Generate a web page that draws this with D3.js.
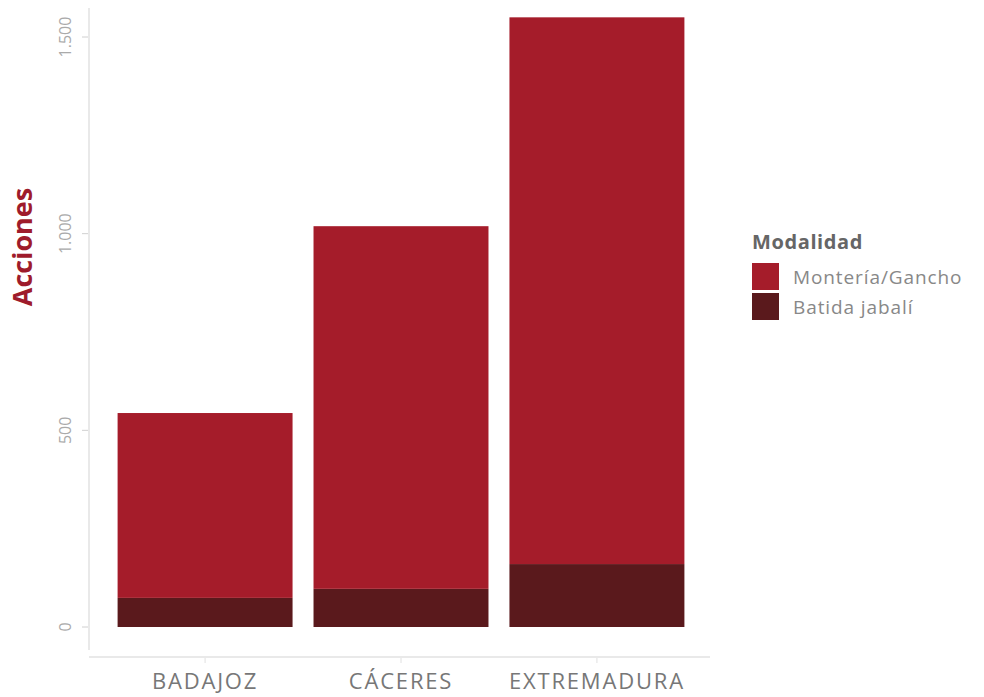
<!DOCTYPE html>
<html>
<head>
<meta charset="utf-8">
<script src="https://cdn.jsdelivr.net/npm/d3@7"></script>
<style>
  body { margin: 0; background: #fff; }
  svg { display: block; font-family: "Open Sans", sans-serif; }
</style>
</head>
<body>
<svg width="984" height="697"></svg>
<script>
var regions = ["BADAJOZ", "CÁCERES", "EXTREMADURA"];
var monteria = [470, 922, 1390];
var batida = [74, 97, 160];
var modalidades = ["Montería/Gancho", "Batida jabalí"];
var colors = ["#a51c2a", "#5a191c"];
var yTicks = [0, 500, 1000, 1500];

var svg = d3.select("svg");

var rows = regions.map(function(r, i) {
    return {region: r, batida: batida[i], monteria: monteria[i]};
});

// batida sits at the bottom, monteria stacked on top
var stack = d3.stack().keys(["batida", "monteria"]);
var series = stack(rows);

var x = d3.scaleBand()
    .domain(regions)
    .range([98, 704])
    .paddingInner(0.107)
    .paddingOuter(0.1);

var y = d3.scaleLinear()
    .domain([0, 1500])
    .range([627, 37]);

var es = d3.formatLocale({decimal: ",", thousands: ".", grouping: [3], currency: ["", " €"]});
var fmt = es.format(",d");

// axis lines
svg.append("line")
    .attr("x1", 89).attr("x2", 89)
    .attr("y1", 8).attr("y2", 650)
    .attr("stroke", "#e2e2e2").attr("stroke-width", 1.5);
svg.append("line")
    .attr("x1", 89).attr("x2", 710)
    .attr("y1", 657).attr("y2", 657)
    .attr("stroke", "#e2e2e2").attr("stroke-width", 1.5);

// y ticks
var yAxis = svg.append("g");
yAxis.selectAll("line")
    .data(yTicks)
    .enter().append("line")
    .attr("x1", 82).attr("x2", 88)
    .attr("y1", function(d) { return y(d); })
    .attr("y2", function(d) { return y(d); })
    .attr("stroke", "#d0d0d0");
yAxis.selectAll("text")
    .data(yTicks)
    .enter().append("text")
    .attr("transform", function(d) { return "translate(71," + y(d) + ") rotate(-90)"; })
    .attr("text-anchor", "middle")
    .attr("font-size", 16)
    .attr("fill", "#aaa")
    .text(function(d) { return fmt(d); });

// x ticks and labels
var xAxis = svg.append("g");
xAxis.selectAll("line")
    .data(regions)
    .enter().append("line")
    .attr("x1", function(d) { return x(d) + x.bandwidth() / 2; })
    .attr("x2", function(d) { return x(d) + x.bandwidth() / 2; })
    .attr("y1", 658).attr("y2", 663)
    .attr("stroke", "#e0e0e0");
xAxis.selectAll("text")
    .data(regions)
    .enter().append("text")
    .attr("x", function(d) { return x(d) + x.bandwidth() / 2; })
    .attr("y", 689)
    .attr("text-anchor", "middle")
    .attr("font-size", 22)
    .attr("letter-spacing", 1.8)
    .attr("fill", "#777")
    .text(function(d) { return d; });

// bars
svg.append("g")
    .selectAll("g")
    .data(series)
    .enter().append("g")
    .attr("fill", function(d) { return d.key === "monteria" ? colors[0] : colors[1]; })
  .selectAll("rect")
    .data(function(d) { return d; })
    .enter().append("rect")
    .attr("x", function(d) { return x(d.data.region); })
    .attr("y", function(d) { return y(d[1]); })
    .attr("width", x.bandwidth())
    .attr("height", function(d) { return y(d[0]) - y(d[1]); });

// y title
svg.append("text")
    .attr("transform", "translate(32,247) rotate(-90)")
    .attr("text-anchor", "middle")
    .attr("font-size", 27)
    .attr("font-weight", "bold")
    .attr("fill", "#9e1b2b")
    .text("Acciones");

// legend
var legend = svg.append("g").attr("transform", "translate(752,0)");
legend.append("text")
    .attr("x", 0).attr("y", 249)
    .attr("font-size", 20)
    .attr("font-weight", "bold")
    .attr("letter-spacing", 0.6)
    .attr("fill", "#666")
    .text("Modalidad");
var items = legend.selectAll("g.item")
    .data(modalidades)
    .enter().append("g")
    .attr("class", "item")
    .attr("transform", function(d, i) { return "translate(0," + (263 + i * 30) + ")"; });
items.append("rect")
    .attr("width", 27).attr("height", 27)
    .attr("fill", function(d, i) { return colors[i]; });
items.append("text")
    .attr("x", 41).attr("y", 21)
    .attr("font-size", 19)
    .attr("letter-spacing", 0.9)
    .attr("fill", "#888")
    .text(function(d) { return d; });
</script>
</body>
</html>
